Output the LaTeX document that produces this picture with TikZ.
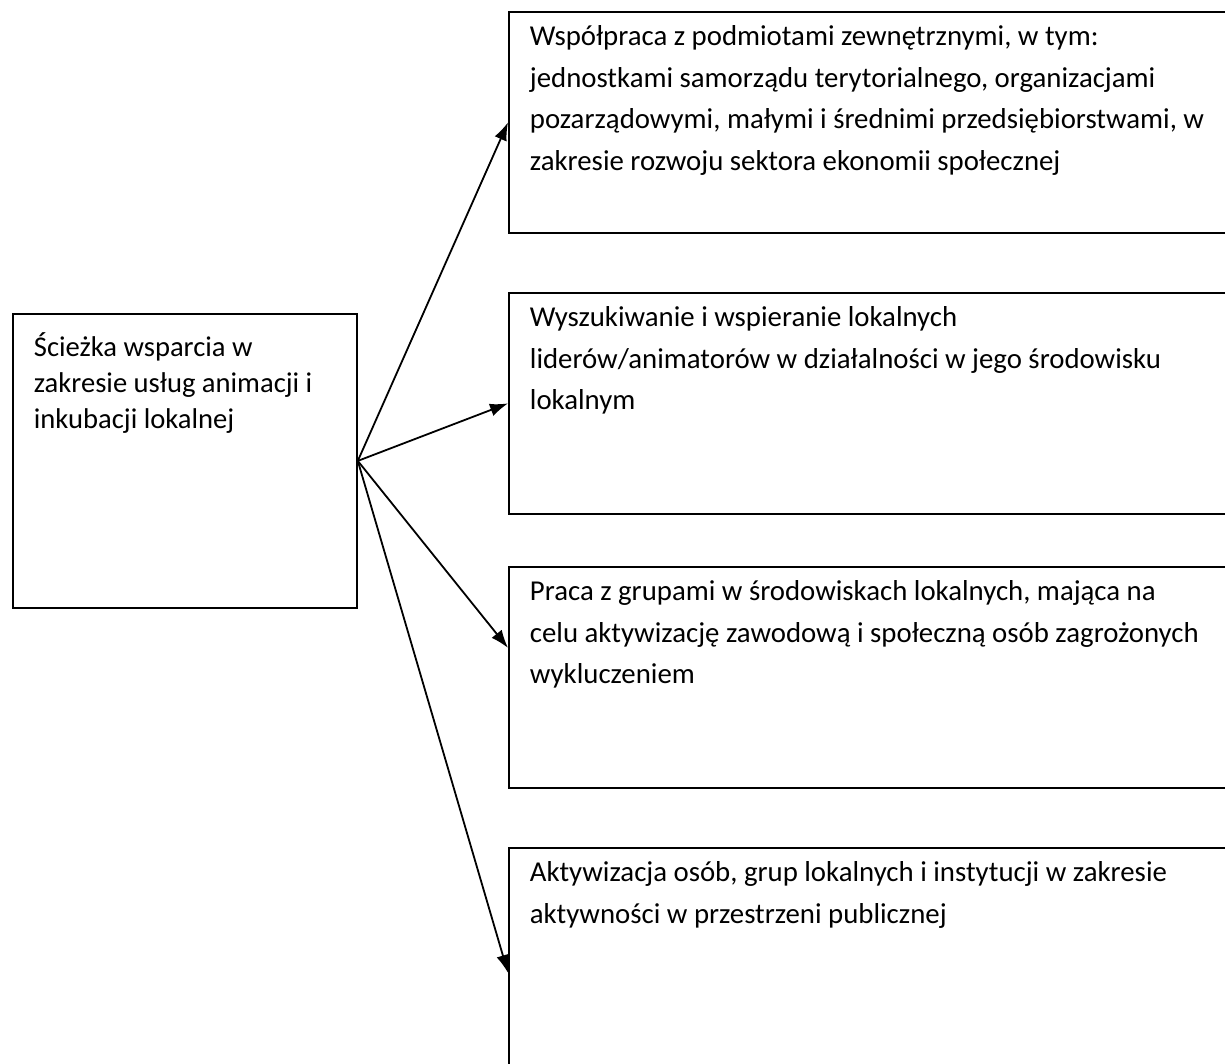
\documentclass[tikz,border=0pt]{standalone}
\usepackage{fontspec}
\setmainfont{Carlito}
\usetikzlibrary{arrows.meta}

\begin{document}
\begin{tikzpicture}[x=0.5pt, y=-0.5pt, >={Latex[length=9pt,width=6.5pt]},
        box/.style={draw, line width=0.9pt, anchor=north west, inner xsep=10.5pt, inner ysep=0pt, align=flush left},
        trackbox/.style={box, text width=151pt, text height=21.5pt, text depth=125.5pt, font=\fontsize{14.3}{18}\selectfont},
        taskbox/.style={box, text width=420pt, text height=17pt, text depth=93.5pt, font=\fontsize{14.4}{20.75}\selectfont}]
        \useasboundingbox (0,0) rectangle (1225,1064);
        \clip (0,0) rectangle (1225,1064);
        \path
        % left column
        +(12,313)  node[trackbox]  (track) {Ścieżka wsparcia w\\zakresie usług animacji i\\inkubacji lokalnej}
        % right column
        +(508,11)  node[taskbox]  (coop) {Współpraca z podmiotami zewnętrznymi, w tym:\\jednostkami samorządu terytorialnego, organizacjami\\pozarządowymi, małymi i średnimi przedsiębiorstwami, w\\zakresie rozwoju sektora ekonomii społecznej}
        +(508,292) node[taskbox]  (leaders) {Wyszukiwanie i wspieranie lokalnych\\liderów/animatorów w działalności w jego środowisku\\lokalnym}
        +(508,566) node[taskbox]  (groups) {Praca z grupami w środowiskach lokalnych, mająca na\\celu aktywizację zawodową i społeczną osób zagrożonych\\wykluczeniem}
        +(508,847) node[taskbox]  (public) {Aktywizacja osób, grup lokalnych i instytucji w zakresie\\aktywności w przestrzeni publicznej};

        \draw[->, line width=0.9pt] (track.east)--(coop.west);
        \draw[->, line width=0.9pt] (track.east)--(leaders.west);
        \draw[->, line width=0.9pt] (track.east)--([yshift=14.75pt]groups.west);
        \draw[->, line width=0.9pt] (track.east)--([yshift=-7.25pt]public.west);
    \end{tikzpicture}
\end{document}
